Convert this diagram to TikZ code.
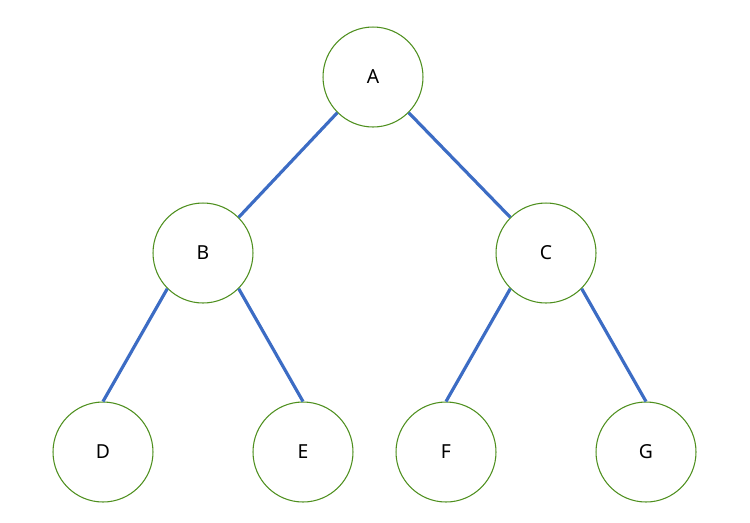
\documentclass[tikz,border=0pt]{standalone}
\usepackage{fontspec}
\setmainfont{Noto Sans}
\usepackage{tikz}
\definecolor{circgreen}{RGB}{78,143,30}
\definecolor{edgeblue}{RGB}{60,108,196}

\begin{document}
\begin{tikzpicture}[x=0.02cm, y=-0.02cm,
    vertex/.style={circle, draw=circgreen, line width=0.6pt, minimum size=2cm, inner sep=0pt, font=\fontsize{11}{13}\selectfont},
    edge/.style={draw=edgeblue, line width=1.8pt}]
                \useasboundingbox (0,0) rectangle (750,522);
                \node[vertex] (A) at (373,77) {A};
                \node[vertex] (B) at (203,253) {B};
                \node[vertex] (C) at (546,253) {C};
                \node[vertex] (D) at (103,452) {D};
                \node[vertex] (E) at (303,452) {E};
                \node[vertex] (F) at (446,452) {F};
                \node[vertex] (G) at (646,452) {G};
                \draw[edge] (A.south west) -- (B.north east);
                \draw[edge] (A.south east) -- (C.north west);
                \draw[edge] (B.south west) -- (D.north);
                \draw[edge] (B.south east) -- (E.north);
                \draw[edge] (C.south west) -- (F.north);
                \draw[edge] (C.south east) -- (G.north);
            \end{tikzpicture}
\end{document}
